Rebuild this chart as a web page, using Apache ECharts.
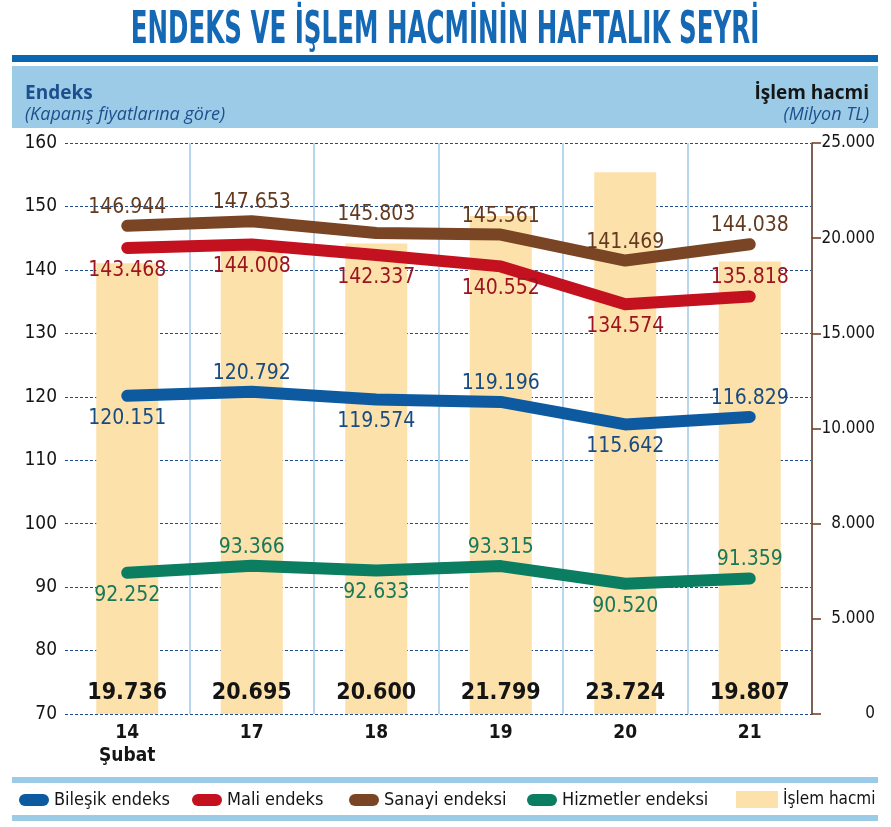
<!DOCTYPE html>
<html><head><meta charset="utf-8">
<script src="https://cdn.jsdelivr.net/npm/echarts@6/dist/echarts.min.js"></script>
<style>html,body{margin:0;padding:0;background:#fff}#c{width:891px;height:827px}</style>
</head><body><div id="c"></div>
<script>
const categories = ['14\nŞubat', '17', '18', '19', '20', '21'];
const bilesik = [120.151, 120.792, 119.574, 119.196, 115.642, 116.829];
const mali = [143.468, 144.008, 142.337, 140.552, 134.574, 135.818];
const sanayi = [146.944, 147.653, 145.803, 145.561, 141.469, 144.038];
const hizmetler = [92.252, 93.366, 92.633, 93.315, 90.520, 91.359];
const islemHacmi = [19736, 20695, 20600, 21799, 23724, 19807];
const leftTicks = {min: 70, max: 160, interval: 10};
const rightTickLabels = ['0', '5.000', '8.000', '10.000', '15.000', '20.000', '25.000'];
const volumeMax = 25000;

const labelSides = {
  bilesik: ['bottom', 'top', 'bottom', 'top', 'bottom', 'top'],
  mali: ['bottom', 'bottom', 'bottom', 'bottom', 'bottom', 'top'],
  sanayi: ['top', 'top', 'top', 'top', 'top', 'top'],
  hizmetler: ['bottom', 'top', 'bottom', 'top', 'bottom', 'top']
};

const FF = '"DejaVu Sans Condensed", "DejaVu Sans", sans-serif';
const fmtIdx = v => v.toFixed(3);
const fmtVol = v => String(v).replace(/\B(?=(\d{3})+(?!\d))/g, '.');

function lineSeries(name, vals, sides, color, labelColor) {
  return {
    name, type: 'line', yAxisIndex: 0, z: 5,
    data: vals.map((v, i) => ({value: v, label: {position: sides[i], distance: sides[i] === 'top' ? 7 : 11}})),
    symbol: 'circle', symbolSize: 2,
    itemStyle: {color},
    lineStyle: {color, width: 12, cap: 'round', join: 'round'},
    label: {show: true, formatter: p => fmtIdx(p.value), color: labelColor,
      fontFamily: FF, fontSize: 21},
    emphasis: {disabled: true}, animation: false
  };
}

const chart = echarts.init(document.getElementById('c'), null, {renderer: 'canvas'});
const capsule = 'path://M6,0 H24 A6,6 0 0 1 24,12 H6 A6,6 0 0 1 6,0 Z';
const legTxt = {fontFamily: FF, fontSize: 18, color: '#151515'};
function capLegend(name, left) {
  return {left, top: 786, itemWidth: 30, itemHeight: 12, itemGap: 0, textStyle: legTxt,
    data: [{name, icon: capsule}]};
}
chart.setOption({
  animation: false,
  graphic: [
    {type: 'text', x: 445, y: 10, scaleX: 0.62, style: {text: 'ENDEKS VE İŞLEM HACMİNİN HAFTALIK SEYRİ',
      font: 'bold 44px ' + FF, fill: '#1468b4', textAlign: 'center'}},
    {type: 'rect', shape: {x: 12, y: 55, width: 866, height: 7}, style: {fill: '#0b66b2'}},
    {type: 'rect', shape: {x: 12, y: 66, width: 866, height: 62}, style: {fill: '#9ccbe8'}},
    {type: 'text', x: 25, y: 84, style: {text: 'Endeks', font: 'bold 19px "Open Sans", sans-serif', fill: '#1d4f8c'}},
    {type: 'text', x: 25, y: 106, style: {text: '(Kapanış fiyatlarına göre)', font: 'italic 18px "Open Sans", sans-serif', fill: '#1d4f8c'}},
    {type: 'text', x: 869, y: 84, style: {text: 'İşlem hacmi', font: 'bold 19px "Open Sans", sans-serif', fill: '#151515', textAlign: 'right'}},
    {type: 'text', x: 869, y: 106, style: {text: '(Milyon TL)', font: 'italic 18px "Open Sans", sans-serif', fill: '#1d4f8c', textAlign: 'right'}},
    {type: 'rect', shape: {x: 12, y: 777, width: 866, height: 6}, style: {fill: '#9ccbe8'}},
    {type: 'rect', shape: {x: 12, y: 815, width: 866, height: 6}, style: {fill: '#9ccbe8'}}
  ],
  legend: [
    capLegend('Bileşik endeks', 14),
    capLegend('Mali endeks', 187),
    capLegend('Sanayi endeksi', 344),
    capLegend('Hizmetler endeksi', 522),
    {left: 731, top: 786, itemWidth: 42, itemHeight: 17, itemGap: 0,
      textStyle: {fontFamily: FF, fontSize: 17, color: '#151515'},
      data: [{name: 'İşlem hacmi', icon: 'rect'}]}
  ],
  grid: {left: 65, right: 79, top: 143, bottom: 113, containLabel: false},
  xAxis: {
    type: 'category', data: categories, boundaryGap: true,
    axisLine: {show: false}, axisTick: {show: false},
    axisLabel: {fontFamily: FF, fontWeight: 'bold', fontSize: 19, color: '#151515', margin: 8, lineHeight: 23},
    splitLine: {show: true, interval: (i) => i > 0, lineStyle: {color: '#b7d7ee', width: 2}}
  },
  yAxis: [
    {type: 'value', min: leftTicks.min, max: leftTicks.max, interval: leftTicks.interval,
      axisLine: {show: false}, axisTick: {show: false},
      axisLabel: {fontFamily: FF, fontSize: 19, color: '#151515', margin: 8},
      splitLine: {show: true, lineStyle: {color: '#1f4d8a', width: 1, type: [3, 2]}}},
    {type: 'value', min: 0, max: volumeMax, show: false, splitLine: {show: false}},
    {type: 'value', position: 'right', min: 0, max: rightTickLabels.length - 1, interval: 1,
      axisLine: {show: true, lineStyle: {color: '#6b3b1f', width: 1.5}},
      axisTick: {show: true, length: 9, lineStyle: {color: '#6b3b1f', width: 1.5}},
      axisLabel: {formatter: v => rightTickLabels[Math.round(v)], align: 'right', margin: 63,
        fontFamily: FF, fontSize: 17, color: '#151515'},
      splitLine: {show: false}}
  ],
  series: [
    {name: 'İşlem hacmi', type: 'bar', yAxisIndex: 1, barWidth: 62, data: islemHacmi,
      itemStyle: {color: '#fde1aa'}, z: 2,
      label: {show: true, position: 'insideBottom', distance: 9, formatter: p => fmtVol(p.value),
        fontFamily: FF, fontWeight: 'bold', fontSize: 23, color: '#141414'},
      emphasis: {disabled: true}},
    lineSeries('Bileşik endeks', bilesik, labelSides.bilesik, '#0d5aa0', '#184b82'),
    lineSeries('Mali endeks', mali, labelSides.mali, '#c4111f', '#9c1420'),
    lineSeries('Sanayi endeksi', sanayi, labelSides.sanayi, '#7a4524', '#633a1f'),
    lineSeries('Hizmetler endeksi', hizmetler, labelSides.hizmetler, '#0b7d60', '#17785a')
  ]
});
</script></body></html>
